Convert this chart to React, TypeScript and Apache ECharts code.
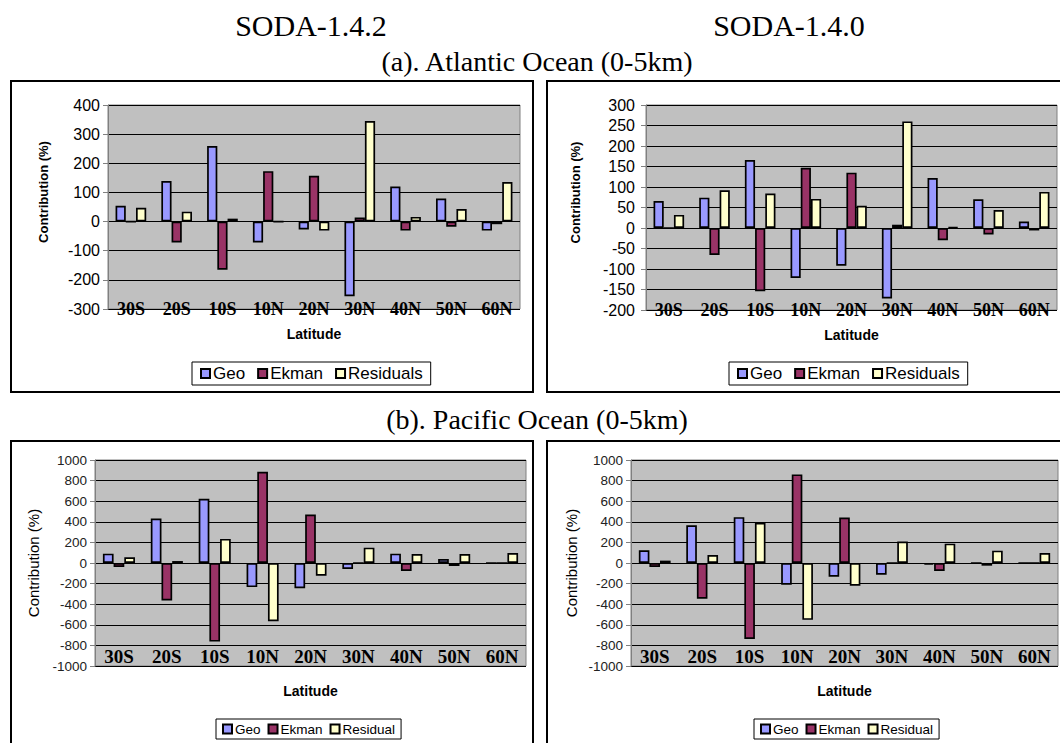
import React, { useEffect, useRef } from "react";
import * as echarts from "echarts";

const latitudes = ["30S", "20S", "10S", "10N", "20N", "30N", "40N", "50N", "60N"];

// (a) Atlantic, SODA-1.4.2
const atlGeo142 = [54, 139, 259, -72, -27, -256, 120, 79, -31];
const atlEkman142 = [0, -72, -165, 173, 157, 14, -31, -18, -9];
const atlRes142 = [47, 34, 10, 0, -31, 345, 16, 43, 136];
// (a) Atlantic, SODA-1.4.0
const atlGeo140 = [66, 74, 166, -122, -92, -172, 122, 70, 16];
const atlEkman140 = [0, -66, -154, 147, 135, 8, -30, -16, -6];
const atlRes140 = [32, 92, 84, 71, 54, 260, 2, 44, 88];
// (b) Pacific, SODA-1.4.2
const pacGeo142 = [91, 432, 623, -234, -244, -58, 91, 39, 0];
const pacEkman142 = [-39, -364, -763, 886, 471, 0, -78, -29, 0];
const pacRes142 = [55, 19, 234, -565, -123, 149, 88, 88, 97];
// (b) Pacific, SODA-1.4.0
const pacGeo140 = [123, 367, 445, -211, -133, -114, -16, 0, 0];
const pacEkman140 = [-39, -347, -737, 860, 442, 0, -78, -26, 0];
const pacRes140 = [23, 78, 390, -552, -221, 208, 188, 120, 97];

const topNames = ["Geo", "Ekman", "Residuals"];
const bottomNames = ["Geo", "Ekman", "Residual"];
const colors = ["#9999FF", "#993366", "#FFFFCC"];

const SERIF = "'Liberation Serif', 'Times New Roman', serif";
const SANS = "'Liberation Sans', Arial, sans-serif";

export default function App() {
  const ref = useRef<HTMLDivElement>(null);
  useEffect(() => {
    document.body.style.margin = "0";
    if (!ref.current) return;
    const chart = echarts.init(ref.current, undefined, { renderer: "svg" });

    const panels = [
      { grid: { left: 108, top: 105, width: 412, height: 204 }, min: -300, max: 400, interval: 100, names: topNames, data: [atlGeo142, atlEkman142, atlRes142], top: true, nameGap: 58, labelMargin: 8, legend: { left: 192, top: 362 } },
      { grid: { left: 646, top: 105, width: 411, height: 205 }, min: -200, max: 300, interval: 50, names: topNames, data: [atlGeo140, atlEkman140, atlRes140], top: true, nameGap: 64, labelMargin: 11, legend: { left: 729, top: 362 } },
      { grid: { left: 95, top: 460, width: 431, height: 206 }, min: -1000, max: 1000, interval: 200, names: bottomNames, data: [pacGeo142, pacEkman142, pacRes142], top: false, nameGap: 54, labelMargin: 8, legend: { left: 216, top: 719 } },
      { grid: { left: 631, top: 460, width: 427, height: 206 }, min: -1000, max: 1000, interval: 200, names: bottomNames, data: [pacGeo140, pacEkman140, pacRes140], top: false, nameGap: 52, labelMargin: 8, legend: { left: 754, top: 719 } },
    ];

    const grid = panels.map((p) => ({
      ...p.grid,
      show: true,
      backgroundColor: "#C0C0C0",
      borderColor: "#808080",
      borderWidth: 1,
      containLabel: false,
    }));

    const xAxis = panels.map((p, i) => ({
      type: "category",
      gridIndex: i,
      data: latitudes,
      position: "bottom",
      axisLine: { show: false, onZero: false },
      axisTick: { show: false },
      axisLabel: {
        inside: true,
        interval: 0,
        margin: p.top ? -9 : 0,
        fontFamily: SERIF,
        fontWeight: "bold",
        fontSize: p.top ? 18 : 19,
        color: "#000",
      },
      name: "Latitude",
      nameLocation: "middle",
      nameGap: 18,
      nameTextStyle: { fontFamily: SANS, fontWeight: "bold", fontSize: 14, color: "#000" },
      splitLine: { show: false },
    }));

    const yAxis = panels.map((p, i) => ({
      type: "value",
      gridIndex: i,
      min: p.min,
      max: p.max,
      interval: p.interval,
      axisLine: { show: true, lineStyle: { color: "#808080", width: 1 } },
      axisTick: { show: true, length: 5, lineStyle: { color: "#808080" } },
      axisLabel: {
        fontFamily: SANS,
        fontSize: p.top ? 16 : 13.5,
        color: p.top ? "#000" : "#222",
        margin: p.labelMargin,
        formatter: (v: number) => String(v),
      },
      splitLine: { show: true, lineStyle: { color: "#000", width: 1 } },
      name: "Contribution (%)",
      nameLocation: "middle",
      nameRotate: 90,
      nameGap: p.nameGap,
      nameTextStyle: {
        fontFamily: SANS,
        fontWeight: p.top ? "bold" : "normal",
        fontSize: p.top ? 13 : 15,
        color: "#000",
        padding: p.top ? [0, 0, 0, 30] : [0, 0, 0, 0],
      },
    }));

    const series: any[] = [];
    panels.forEach((p, i) => {
      p.data.forEach((vals, k) => {
        series.push({
          type: "bar",
          name: p.names[k],
          xAxisIndex: i,
          yAxisIndex: i,
          data: vals,
          barGap: "0%",
          barCategoryGap: "33%",
          itemStyle: { color: colors[k], borderColor: "#000", borderWidth: 1.7 },
        });
      });
    });

    const legend = panels.map((p) => ({
      left: p.legend.left,
      top: p.legend.top,
      data: p.names,
      orient: "horizontal",
      icon: "rect",
      itemWidth: 9,
      itemHeight: 9,
      itemGap: p.top ? 12 : 7,
      padding: p.top ? [3, 8] : [3, 6],
      borderColor: "#000",
      borderWidth: 1,
      backgroundColor: "#fff",
      selectedMode: false,
      textStyle: { fontFamily: SANS, fontSize: p.top ? 17 : 13.5, color: "#000", padding: [0, 0, 0, -2] },
    }));

    const frameStyle = { fill: "none", stroke: "#000", lineWidth: 2 };
    const titleText = (text: string, x: number, y: number, size: number) => ({
      type: "text",
      x,
      y,
      style: { text, fill: "#000", font: `${size}px ${SERIF}`, textAlign: "center", textVerticalAlign: "middle" },
    });

    chart.setOption({
      animation: false,
      backgroundColor: "#fff",
      grid,
      xAxis,
      yAxis,
      series,
      legend,
      graphic: [
        { type: "rect", shape: { x: 11, y: 81, width: 522, height: 311 }, style: frameStyle, z: -1 },
        { type: "rect", shape: { x: 547, y: 81, width: 530, height: 311 }, style: frameStyle, z: -1 },
        { type: "rect", shape: { x: 11, y: 441, width: 522, height: 330 }, style: frameStyle, z: -1 },
        { type: "rect", shape: { x: 547, y: 441, width: 530, height: 330 }, style: frameStyle, z: -1 },
        titleText("SODA-1.4.2", 311, 25, 30),
        titleText("SODA-1.4.0", 789, 25, 30),
        titleText("(a). Atlantic Ocean (0-5km)", 537, 61, 28),
        titleText("(b). Pacific Ocean (0-5km)", 537, 419, 28),
      ],
    });
    return () => chart.dispose();
  }, []);
  return <div ref={ref} style={{ width: 1060, height: 743, position: "absolute", left: 0, top: 0 }} />;
}
